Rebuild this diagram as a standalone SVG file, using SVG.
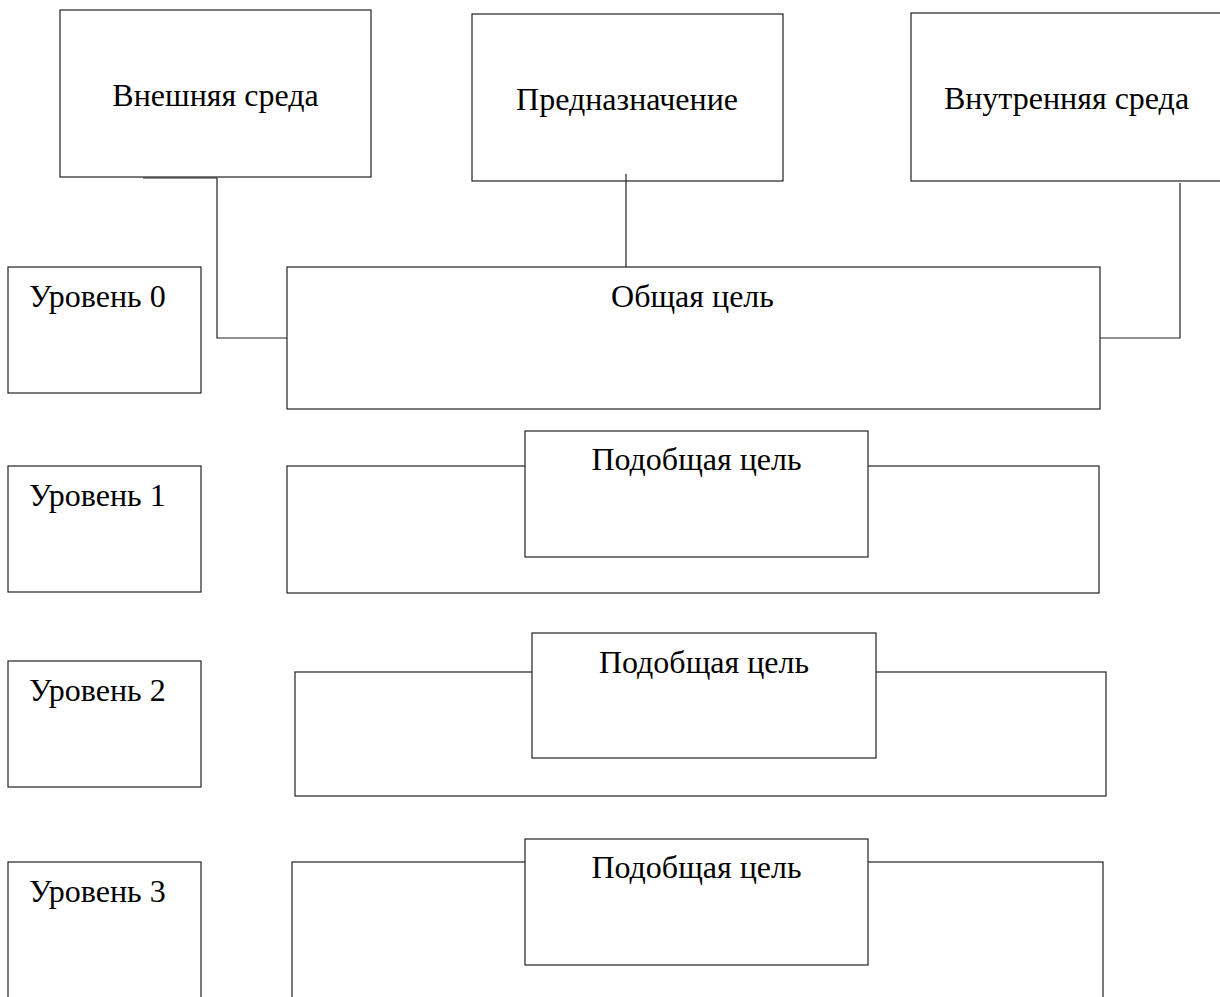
<svg xmlns="http://www.w3.org/2000/svg" width="1220" height="997" viewBox="0 0 1220 997">
<style>
rect{fill:none;stroke:#222;stroke-width:1.2}
.c{fill:none;stroke:#222;stroke-width:1.2}
text{font-family:"Liberation Serif","Times New Roman",serif;font-size:32px;fill:#000}
.m{text-anchor:middle}
</style>
<rect x="0" y="0" width="1220" height="997" style="fill:#fff;stroke:none"/>
<g id="connectors">
<polyline class="c" points="143,178 217,178 217,338 287,338"/>
<line class="c" x1="626" y1="174" x2="626" y2="267"/>
<polyline class="c" points="1180,183 1180,338 1100,338"/>
</g>
<g id="external"><rect x="60" y="10" width="311" height="167"/><text class="m" x="215.5" y="106">Внешняя среда</text></g>
<g id="purpose"><rect x="472" y="14" width="311" height="167"/><text class="m" x="627" y="110">Предназначение</text></g>
<g id="internal"><rect x="911" y="13" width="320" height="168"/><text class="m" x="1066.5" y="109">Внутренняя среда</text></g>
<g id="level0"><rect x="8" y="267" width="193" height="126"/><text x="29" y="307">Уровень 0</text></g>
<g id="goal"><rect x="287" y="267" width="813" height="142"/><text class="m" x="692.5" y="307">Общая цель</text></g>
<g id="level1"><rect x="8" y="466" width="193" height="126"/><text x="29" y="506">Уровень 1</text></g>
<g id="band1"><rect x="287" y="466" width="812" height="127"/></g>
<g id="sub1"><rect x="525" y="431" width="343" height="126" style="fill:#fff"/><text class="m" x="696.5" y="470">Подобщая цель</text></g>
<g id="level2"><rect x="8" y="661" width="193" height="126"/><text x="29" y="701">Уровень 2</text></g>
<g id="band2"><rect x="295" y="672" width="811" height="124"/></g>
<g id="sub2"><rect x="532" y="633" width="344" height="125" style="fill:#fff"/><text class="m" x="704" y="673">Подобщая цель</text></g>
<g id="level3"><rect x="8" y="862" width="193" height="150"/><text x="29" y="902">Уровень 3</text></g>
<g id="band3"><rect x="292" y="862" width="811" height="150"/></g>
<g id="sub3"><rect x="525" y="839" width="343" height="126" style="fill:#fff"/><text class="m" x="696.5" y="878">Подобщая цель</text></g>
</svg>
